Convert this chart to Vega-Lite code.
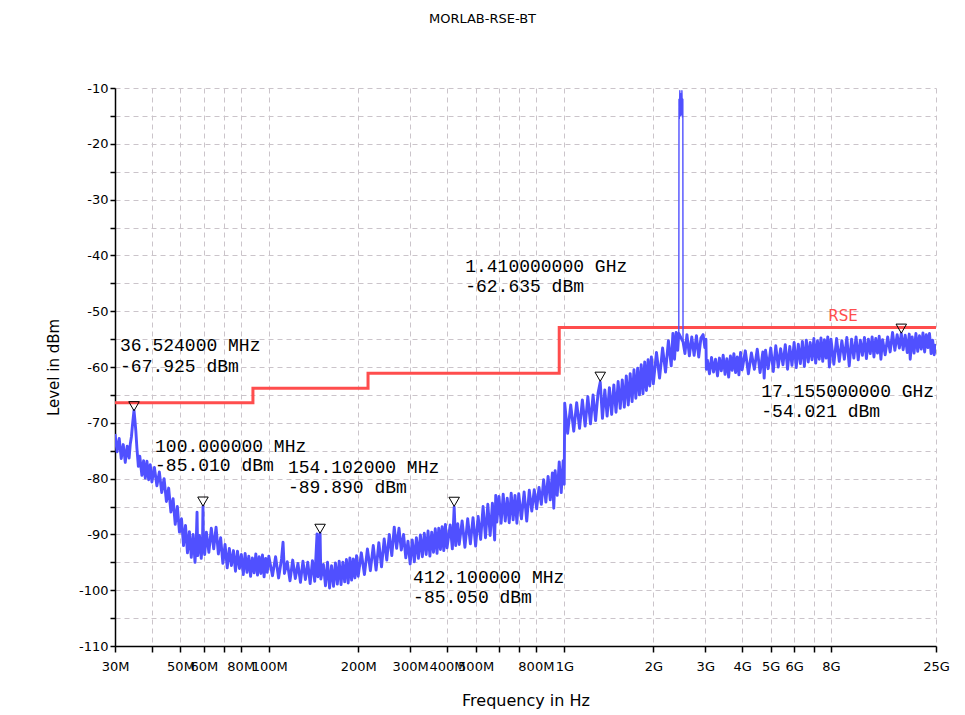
{
  "$schema": "https://vega.github.io/schema/vega-lite/v6.json",
  "width": 821,
  "height": 558,
  "autosize": "none",
  "padding": {"left": 115, "top": 88, "right": 29, "bottom": 69},
  "background": "white",
  "config": {"view": {"stroke": null}},
  "title": {"text": "MORLAB-RSE-BT", "font": "DejaVu Sans", "fontSize": 13, "fontWeight": "normal", "color": "black", "anchor": "middle", "dx": -43, "offset": 56},
  "datasets": {
    "limit": [
      {"f": 30, "v": -66.4}, {"f": 88, "v": -63.8}, {"f": 216, "v": -61.1}, {"f": 960, "v": -52.9}, {"f": 25000, "v": -52.9}
    ],
    "markers": [
      {"f": 34.8, "v": -67.925}, {"f": 59.6, "v": -85.01}, {"f": 148.6, "v": -89.89}, {"f": 423, "v": -85.05}, {"f": 1322, "v": -62.635}, {"f": 17155, "v": -54.021}
    ],
    "labels": [
      {"f": 31.2, "v": -56.2, "t": "36.524000 MHz"},
      {"f": 31.2, "v": -60.0, "t": "-67.925 dBm"},
      {"f": 41.0, "v": -74.3, "t": "100.000000 MHz"},
      {"f": 41.0, "v": -77.7, "t": "-85.010 dBm"},
      {"f": 115.7, "v": -78.1, "t": "154.102000 MHz"},
      {"f": 115.7, "v": -81.7, "t": "-89.890 dBm"},
      {"f": 307, "v": -97.8, "t": "412.100000 MHz"},
      {"f": 307, "v": -101.4, "t": "-85.050 dBm"},
      {"f": 461, "v": -42.1, "t": "1.410000000 GHz"},
      {"f": 461, "v": -45.7, "t": "-62.635 dBm"},
      {"f": 4645, "v": -64.5, "t": "17.155000000 GHz"},
      {"f": 4645, "v": -68.1, "t": "-54.021 dBm"}
    ],
    "trace": [
      {"f": 30, "v": -72.0}, {"f": 30.5, "v": -75.2}, {"f": 31, "v": -72.8}, {"f": 31.5, "v": -76.4}, {"f": 32, "v": -73.9}, {"f": 32.5, "v": -77.1},
      {"f": 33, "v": -74.2}, {"f": 33.5, "v": -76.3}, {"f": 33.8, "v": -73.8}, {"f": 34.1, "v": -72.5}, {"f": 34.4, "v": -70.3}, {"f": 34.6, "v": -69.0},
      {"f": 34.8, "v": -67.8}, {"f": 35, "v": -69.2}, {"f": 35.3, "v": -71.5}, {"f": 35.6, "v": -74.6}, {"f": 36, "v": -77.8}, {"f": 36.4, "v": -76.0},
      {"f": 37, "v": -79.4}, {"f": 37.5, "v": -76.8}, {"f": 38, "v": -79.9}, {"f": 38.5, "v": -76.9}, {"f": 39, "v": -80.2}, {"f": 39.5, "v": -77.5},
      {"f": 40, "v": -80.6}, {"f": 40.8, "v": -78.0}, {"f": 41.6, "v": -81.3}, {"f": 42.4, "v": -78.8}, {"f": 43.2, "v": -82.5}, {"f": 44.0, "v": -80.0},
      {"f": 44.8, "v": -84.1}, {"f": 45.6, "v": -81.7}, {"f": 46.4, "v": -86.0}, {"f": 47.2, "v": -83.6}, {"f": 48.0, "v": -88.2}, {"f": 48.8, "v": -85.0},
      {"f": 49.6, "v": -89.6}, {"f": 50.4, "v": -87.2}, {"f": 51.2, "v": -92.0}, {"f": 52.0, "v": -88.4}, {"f": 52.8, "v": -93.3}, {"f": 53.6, "v": -89.5},
      {"f": 54.4, "v": -94.1}, {"f": 55.2, "v": -90.0}, {"f": 56.0, "v": -95.0}, {"f": 56.6, "v": -90.5}, {"f": 56.9, "v": -86.0}, {"f": 57.2, "v": -93.8},
      {"f": 58.0, "v": -90.2}, {"f": 58.8, "v": -94.3}, {"f": 59.4, "v": -90.8}, {"f": 59.6, "v": -85.0}, {"f": 59.8, "v": -91.5}, {"f": 60.4, "v": -93.6},
      {"f": 61.2, "v": -89.6}, {"f": 62.4, "v": -93.2}, {"f": 63.6, "v": -88.9}, {"f": 64.8, "v": -92.6}, {"f": 66.0, "v": -88.7}, {"f": 67.2, "v": -93.5},
      {"f": 68.4, "v": -90.6}, {"f": 69.6, "v": -95.2}, {"f": 70.8, "v": -91.8}, {"f": 72.0, "v": -96.0}, {"f": 73.2, "v": -92.5}, {"f": 74.4, "v": -95.6},
      {"f": 75.6, "v": -92.9}, {"f": 76.8, "v": -96.6}, {"f": 78.0, "v": -93.0}, {"f": 79.2, "v": -96.1}, {"f": 80.4, "v": -93.6}, {"f": 81.6, "v": -97.2},
      {"f": 82.8, "v": -93.4}, {"f": 84.0, "v": -96.8}, {"f": 85.2, "v": -93.9}, {"f": 86.4, "v": -97.5}, {"f": 87.6, "v": -94.2}, {"f": 88.8, "v": -96.9},
      {"f": 90.0, "v": -93.5}, {"f": 91.2, "v": -97.3}, {"f": 92.4, "v": -94.0}, {"f": 93.6, "v": -97.0}, {"f": 94.8, "v": -93.7}, {"f": 96.0, "v": -97.6},
      {"f": 97.2, "v": -94.3}, {"f": 98.4, "v": -96.8}, {"f": 99.6, "v": -93.9}, {"f": 102.5, "v": -97.4}, {"f": 105, "v": -94.0}, {"f": 107.5, "v": -97.8},
      {"f": 110, "v": -94.4}, {"f": 111.3, "v": -91.4}, {"f": 112.5, "v": -97.0}, {"f": 115, "v": -94.9}, {"f": 117.5, "v": -98.3}, {"f": 120, "v": -94.6},
      {"f": 122.5, "v": -97.9}, {"f": 125, "v": -95.2}, {"f": 127.5, "v": -98.6}, {"f": 130, "v": -94.8}, {"f": 132.5, "v": -98.1}, {"f": 135, "v": -95.0},
      {"f": 137.5, "v": -98.8}, {"f": 140, "v": -94.7}, {"f": 142.5, "v": -98.4}, {"f": 145.1, "v": -89.9}, {"f": 146, "v": -97.6}, {"f": 147.5, "v": -95.3},
      {"f": 148.6, "v": -89.8}, {"f": 149.5, "v": -98.0}, {"f": 152.5, "v": -95.4}, {"f": 155, "v": -99.2}, {"f": 157.5, "v": -95.0}, {"f": 160, "v": -99.6},
      {"f": 162.5, "v": -95.6}, {"f": 165, "v": -99.3}, {"f": 167.5, "v": -95.1}, {"f": 170, "v": -98.9}, {"f": 172.5, "v": -94.8}, {"f": 175, "v": -99.0},
      {"f": 177.5, "v": -95.0}, {"f": 180, "v": -98.5}, {"f": 182.5, "v": -94.5}, {"f": 185, "v": -98.7}, {"f": 187.5, "v": -94.2}, {"f": 190, "v": -98.2},
      {"f": 192.5, "v": -94.4}, {"f": 195, "v": -97.8}, {"f": 197.5, "v": -93.8}, {"f": 200, "v": -97.5}, {"f": 205, "v": -93.3}, {"f": 210, "v": -97.2},
      {"f": 215, "v": -92.6}, {"f": 220, "v": -96.5}, {"f": 225, "v": -92.0}, {"f": 230, "v": -96.4}, {"f": 235, "v": -91.5}, {"f": 240, "v": -95.8},
      {"f": 245, "v": -90.8}, {"f": 250, "v": -94.6}, {"f": 255, "v": -90.0}, {"f": 260, "v": -93.8}, {"f": 265, "v": -88.7}, {"f": 270, "v": -92.5},
      {"f": 275, "v": -88.9}, {"f": 280, "v": -92.8}, {"f": 285, "v": -90.0}, {"f": 290, "v": -94.2}, {"f": 295, "v": -91.2}, {"f": 300, "v": -95.3},
      {"f": 305, "v": -91.0}, {"f": 310, "v": -94.9}, {"f": 315, "v": -90.6}, {"f": 320, "v": -94.3}, {"f": 325, "v": -90.1}, {"f": 330, "v": -94.0},
      {"f": 335, "v": -89.8}, {"f": 340, "v": -93.6}, {"f": 345, "v": -89.4}, {"f": 350, "v": -93.9}, {"f": 355, "v": -89.6}, {"f": 360, "v": -93.2},
      {"f": 365, "v": -89.0}, {"f": 370, "v": -93.4}, {"f": 375, "v": -88.9}, {"f": 380, "v": -92.7}, {"f": 385, "v": -88.6}, {"f": 390, "v": -92.9},
      {"f": 395, "v": -88.2}, {"f": 400, "v": -92.4}, {"f": 410, "v": -88.3}, {"f": 417, "v": -92.6}, {"f": 423, "v": -85.1}, {"f": 428, "v": -92.0},
      {"f": 435, "v": -88.1}, {"f": 440, "v": -91.8}, {"f": 450, "v": -87.6}, {"f": 460, "v": -92.3}, {"f": 470, "v": -87.2}, {"f": 480, "v": -91.7},
      {"f": 490, "v": -87.0}, {"f": 500, "v": -92.1}, {"f": 510, "v": -86.8}, {"f": 520, "v": -90.9}, {"f": 530, "v": -85.0}, {"f": 540, "v": -90.6},
      {"f": 550, "v": -84.6}, {"f": 560, "v": -90.2}, {"f": 570, "v": -84.4}, {"f": 580, "v": -91.0}, {"f": 585, "v": -83.0}, {"f": 590, "v": -87.8},
      {"f": 600, "v": -83.2}, {"f": 610, "v": -88.0}, {"f": 620, "v": -82.8}, {"f": 630, "v": -87.6}, {"f": 640, "v": -83.5}, {"f": 650, "v": -87.9},
      {"f": 660, "v": -82.6}, {"f": 670, "v": -87.4}, {"f": 680, "v": -83.0}, {"f": 690, "v": -88.0}, {"f": 700, "v": -82.7}, {"f": 715, "v": -87.2},
      {"f": 730, "v": -82.4}, {"f": 745, "v": -87.6}, {"f": 760, "v": -82.1}, {"f": 775, "v": -85.8}, {"f": 790, "v": -82.0}, {"f": 805, "v": -85.4},
      {"f": 820, "v": -81.6}, {"f": 835, "v": -84.6}, {"f": 850, "v": -80.2}, {"f": 865, "v": -84.2}, {"f": 880, "v": -79.6}, {"f": 895, "v": -83.8},
      {"f": 910, "v": -79.0}, {"f": 920, "v": -85.3}, {"f": 930, "v": -78.6}, {"f": 945, "v": -83.0}, {"f": 960, "v": -77.0}, {"f": 975, "v": -82.5},
      {"f": 990, "v": -76.8}, {"f": 998, "v": -81.0}, {"f": 1002, "v": -66.5}, {"f": 1025, "v": -71.9}, {"f": 1050, "v": -66.8}, {"f": 1075, "v": -71.5},
      {"f": 1100, "v": -66.4}, {"f": 1125, "v": -71.0}, {"f": 1150, "v": -65.9}, {"f": 1175, "v": -70.6}, {"f": 1200, "v": -65.3}, {"f": 1225, "v": -70.2},
      {"f": 1250, "v": -65.0}, {"f": 1275, "v": -69.6}, {"f": 1300, "v": -64.6}, {"f": 1322, "v": -62.7}, {"f": 1345, "v": -69.2}, {"f": 1370, "v": -64.1},
      {"f": 1395, "v": -68.8}, {"f": 1420, "v": -63.7}, {"f": 1445, "v": -68.5}, {"f": 1470, "v": -63.2}, {"f": 1495, "v": -68.1}, {"f": 1520, "v": -62.6},
      {"f": 1545, "v": -67.4}, {"f": 1570, "v": -62.3}, {"f": 1595, "v": -67.2}, {"f": 1620, "v": -61.6}, {"f": 1645, "v": -66.8}, {"f": 1670, "v": -61.2},
      {"f": 1695, "v": -66.2}, {"f": 1720, "v": -60.5}, {"f": 1745, "v": -65.6}, {"f": 1770, "v": -60.2}, {"f": 1795, "v": -65.0}, {"f": 1820, "v": -59.6},
      {"f": 1845, "v": -64.8}, {"f": 1870, "v": -59.1}, {"f": 1895, "v": -64.2}, {"f": 1920, "v": -58.7}, {"f": 1945, "v": -63.4}, {"f": 1970, "v": -58.2},
      {"f": 2000, "v": -63.0}, {"f": 2050, "v": -57.4}, {"f": 2100, "v": -62.0}, {"f": 2150, "v": -56.6}, {"f": 2200, "v": -60.9}, {"f": 2250, "v": -55.3},
      {"f": 2300, "v": -59.8}, {"f": 2330, "v": -54.0}, {"f": 2360, "v": -58.6}, {"f": 2390, "v": -53.8}, {"f": 2420, "v": -57.0}, {"f": 2440, "v": -54.0},
      {"f": 2444, "v": -12.0}, {"f": 2450, "v": -15.5}, {"f": 2460, "v": -10.5}, {"f": 2470, "v": -15.0}, {"f": 2480, "v": -11.0}, {"f": 2490, "v": -14.8},
      {"f": 2500, "v": -10.5}, {"f": 2510, "v": -15.2}, {"f": 2518, "v": -12.0}, {"f": 2522, "v": -55.5}, {"f": 2560, "v": -57.6}, {"f": 2600, "v": -54.2},
      {"f": 2650, "v": -58.0}, {"f": 2700, "v": -54.6}, {"f": 2750, "v": -57.9}, {"f": 2800, "v": -54.4}, {"f": 2850, "v": -58.2}, {"f": 2900, "v": -54.8},
      {"f": 2950, "v": -54.2}, {"f": 2990, "v": -56.5}, {"f": 3015, "v": -55.0}, {"f": 3025, "v": -60.4}, {"f": 3050, "v": -58.8}, {"f": 3100, "v": -61.2},
      {"f": 3150, "v": -58.3}, {"f": 3200, "v": -60.9}, {"f": 3250, "v": -58.6}, {"f": 3300, "v": -61.6}, {"f": 3350, "v": -58.4}, {"f": 3400, "v": -60.7},
      {"f": 3450, "v": -57.9}, {"f": 3500, "v": -61.3}, {"f": 3550, "v": -58.5}, {"f": 3600, "v": -61.8}, {"f": 3650, "v": -58.0}, {"f": 3700, "v": -60.6},
      {"f": 3750, "v": -57.6}, {"f": 3800, "v": -61.0}, {"f": 3850, "v": -58.2}, {"f": 3900, "v": -61.4}, {"f": 3950, "v": -57.4}, {"f": 4000, "v": -60.5},
      {"f": 4100, "v": -57.1}, {"f": 4200, "v": -61.2}, {"f": 4300, "v": -57.5}, {"f": 4400, "v": -60.4}, {"f": 4500, "v": -56.8}, {"f": 4600, "v": -61.0},
      {"f": 4700, "v": -57.3}, {"f": 4750, "v": -62.0}, {"f": 4800, "v": -57.0}, {"f": 4900, "v": -60.3}, {"f": 5000, "v": -56.6}, {"f": 5100, "v": -60.8},
      {"f": 5200, "v": -56.2}, {"f": 5300, "v": -60.0}, {"f": 5400, "v": -56.7}, {"f": 5500, "v": -59.6}, {"f": 5600, "v": -56.0}, {"f": 5700, "v": -60.4},
      {"f": 5800, "v": -56.3}, {"f": 5900, "v": -59.7}, {"f": 6000, "v": -55.6}, {"f": 6100, "v": -60.1}, {"f": 6200, "v": -55.9}, {"f": 6300, "v": -59.4},
      {"f": 6400, "v": -55.4}, {"f": 6500, "v": -59.9}, {"f": 6600, "v": -55.2}, {"f": 6700, "v": -59.1}, {"f": 6800, "v": -55.6}, {"f": 6900, "v": -58.7},
      {"f": 7000, "v": -54.9}, {"f": 7100, "v": -59.3}, {"f": 7200, "v": -55.3}, {"f": 7300, "v": -58.6}, {"f": 7400, "v": -54.8}, {"f": 7500, "v": -59.0},
      {"f": 7600, "v": -55.1}, {"f": 7700, "v": -58.4}, {"f": 7800, "v": -54.6}, {"f": 7900, "v": -60.0}, {"f": 8000, "v": -55.0}, {"f": 8250, "v": -59.5},
      {"f": 8500, "v": -54.9}, {"f": 8750, "v": -59.0}, {"f": 9000, "v": -55.3}, {"f": 9250, "v": -58.6}, {"f": 9500, "v": -54.7}, {"f": 9750, "v": -59.8},
      {"f": 10000, "v": -55.0}, {"f": 10250, "v": -58.4}, {"f": 10500, "v": -54.6}, {"f": 10750, "v": -58.7}, {"f": 11000, "v": -55.2}, {"f": 11250, "v": -57.9},
      {"f": 11500, "v": -54.7}, {"f": 11750, "v": -58.5}, {"f": 12000, "v": -55.0}, {"f": 12250, "v": -57.6}, {"f": 12500, "v": -54.6}, {"f": 12750, "v": -58.2},
      {"f": 13000, "v": -54.9}, {"f": 13250, "v": -57.5}, {"f": 13500, "v": -54.5}, {"f": 13750, "v": -58.6}, {"f": 14000, "v": -55.1}, {"f": 14400, "v": -57.8},
      {"f": 14800, "v": -54.6}, {"f": 15200, "v": -57.3}, {"f": 15600, "v": -53.8}, {"f": 16000, "v": -57.0}, {"f": 16400, "v": -54.2}, {"f": 16800, "v": -56.6},
      {"f": 17155, "v": -54.0}, {"f": 17500, "v": -56.9}, {"f": 17900, "v": -54.3}, {"f": 18300, "v": -57.4}, {"f": 18700, "v": -54.1}, {"f": 18900, "v": -58.6},
      {"f": 19300, "v": -54.6}, {"f": 19700, "v": -57.5}, {"f": 20100, "v": -54.0}, {"f": 20500, "v": -57.2}, {"f": 20900, "v": -54.4}, {"f": 21300, "v": -56.8},
      {"f": 21700, "v": -53.9}, {"f": 22100, "v": -57.3}, {"f": 22500, "v": -54.2}, {"f": 22900, "v": -56.5}, {"f": 23300, "v": -54.0}, {"f": 23700, "v": -57.6},
      {"f": 24100, "v": -55.2}, {"f": 24500, "v": -57.8}, {"f": 25000, "v": -55.9}
    ]
  },
  "encoding": {
    "x": {
      "field": "f", "type": "quantitative", "title": "Frequency in Hz",
      "scale": {"type": "log", "domain": [30, 8000, 25000], "range": [0, 716, 821], "nice": false},
      "axis": {
        "values": [30, 40, 50, 60, 70, 80, 100, 200, 300, 400, 500, 600, 700, 800, 1000, 2000, 3000, 4000, 5000, 6000, 7000, 8000, 25000],
        "labelExpr": "indexof([40, 70, 600, 700, 7000], datum.value) >= 0 ? '' : (datum.value >= 1000 ? (datum.value / 1000) + 'G' : datum.value + 'M')",
        "labelOverlap": false, "labelFlush": false, "labelFont": "DejaVu Sans", "labelFontSize": 13, "labelColor": "black", "labelPadding": 8,
        "tickSize": 6, "tickColor": "black", "tickWidth": 1.5, "domainColor": "black", "domainWidth": 1.5,
        "grid": true, "gridColor": "#cbc4ca", "gridDash": [5, 4], "gridWidth": 1,
        "titleFont": "DejaVu Sans", "titleFontSize": 16, "titleFontWeight": "normal", "titleColor": "black", "titleY": 54, "titleBaseline": "middle"
      }
    },
    "y": {
      "field": "v", "type": "quantitative", "title": "Level in dBm",
      "scale": {"domain": [-110, -10], "nice": false, "zero": false},
      "axis": {
        "values": [-110, -105, -100, -95, -90, -85, -80, -75, -70, -65, -60, -55, -50, -45, -40, -35, -30, -25, -20, -15, -10],
        "labelExpr": "datum.value % 10 == 0 ? '' + datum.value : ''",
        "labelOverlap": false, "labelFont": "DejaVu Sans", "labelFontSize": 13, "labelColor": "black", "labelPadding": 2,
        "tickSize": 5, "tickColor": "black", "tickWidth": 1.5, "domainColor": "black", "domainWidth": 1.5,
        "grid": true, "gridColor": "#cbc4ca", "gridDash": [5, 4], "gridWidth": 1,
        "titleFont": "DejaVu Sans", "titleFontSize": 15, "titleFontWeight": "normal", "titleColor": "black",
        "titleX": -62, "titleY": 279, "titleAngle": -90, "titleAlign": "center", "titleBaseline": "middle"
      }
    }
  },
  "layer": [
    {
      "data": {"name": "limit"},
      "mark": {"type": "line", "interpolate": "step-after", "color": "#ff4d4d", "strokeWidth": 3}
    },
    {
      "data": {"name": "trace"},
      "transform": [{"filter": "datum.v < -30"}],
      "mark": {"type": "line", "color": "#5050ff", "strokeWidth": 2.9, "strokeJoin": "round", "clip": true}
    },
    {
      "data": {"name": "trace"},
      "transform": [{"filter": "datum.f >= 2440 && datum.f <= 2522"}],
      "mark": {"type": "line", "color": "#5050ff", "strokeWidth": 1.4, "strokeJoin": "round", "clip": true}
    },
    {
      "data": {"name": "markers"},
      "mark": {"type": "point", "shape": "triangle-down", "filled": false, "color": "black", "strokeWidth": 1, "size": 110, "yOffset": -5, "opacity": 1}
    },
    {
      "data": {"name": "labels"},
      "mark": {"type": "text", "font": "Liberation Mono", "fontSize": 18, "align": "left", "baseline": "middle", "color": "black"},
      "encoding": {"text": {"field": "t"}}
    },
    {
      "data": {"values": [{"f": 9112, "v": -50.9, "t": "RSE"}]},
      "mark": {"type": "text", "font": "DejaVu Sans", "fontSize": 15, "align": "center", "baseline": "middle", "color": "#ff4d4d"},
      "encoding": {"text": {"field": "t"}}
    }
  ]
}
